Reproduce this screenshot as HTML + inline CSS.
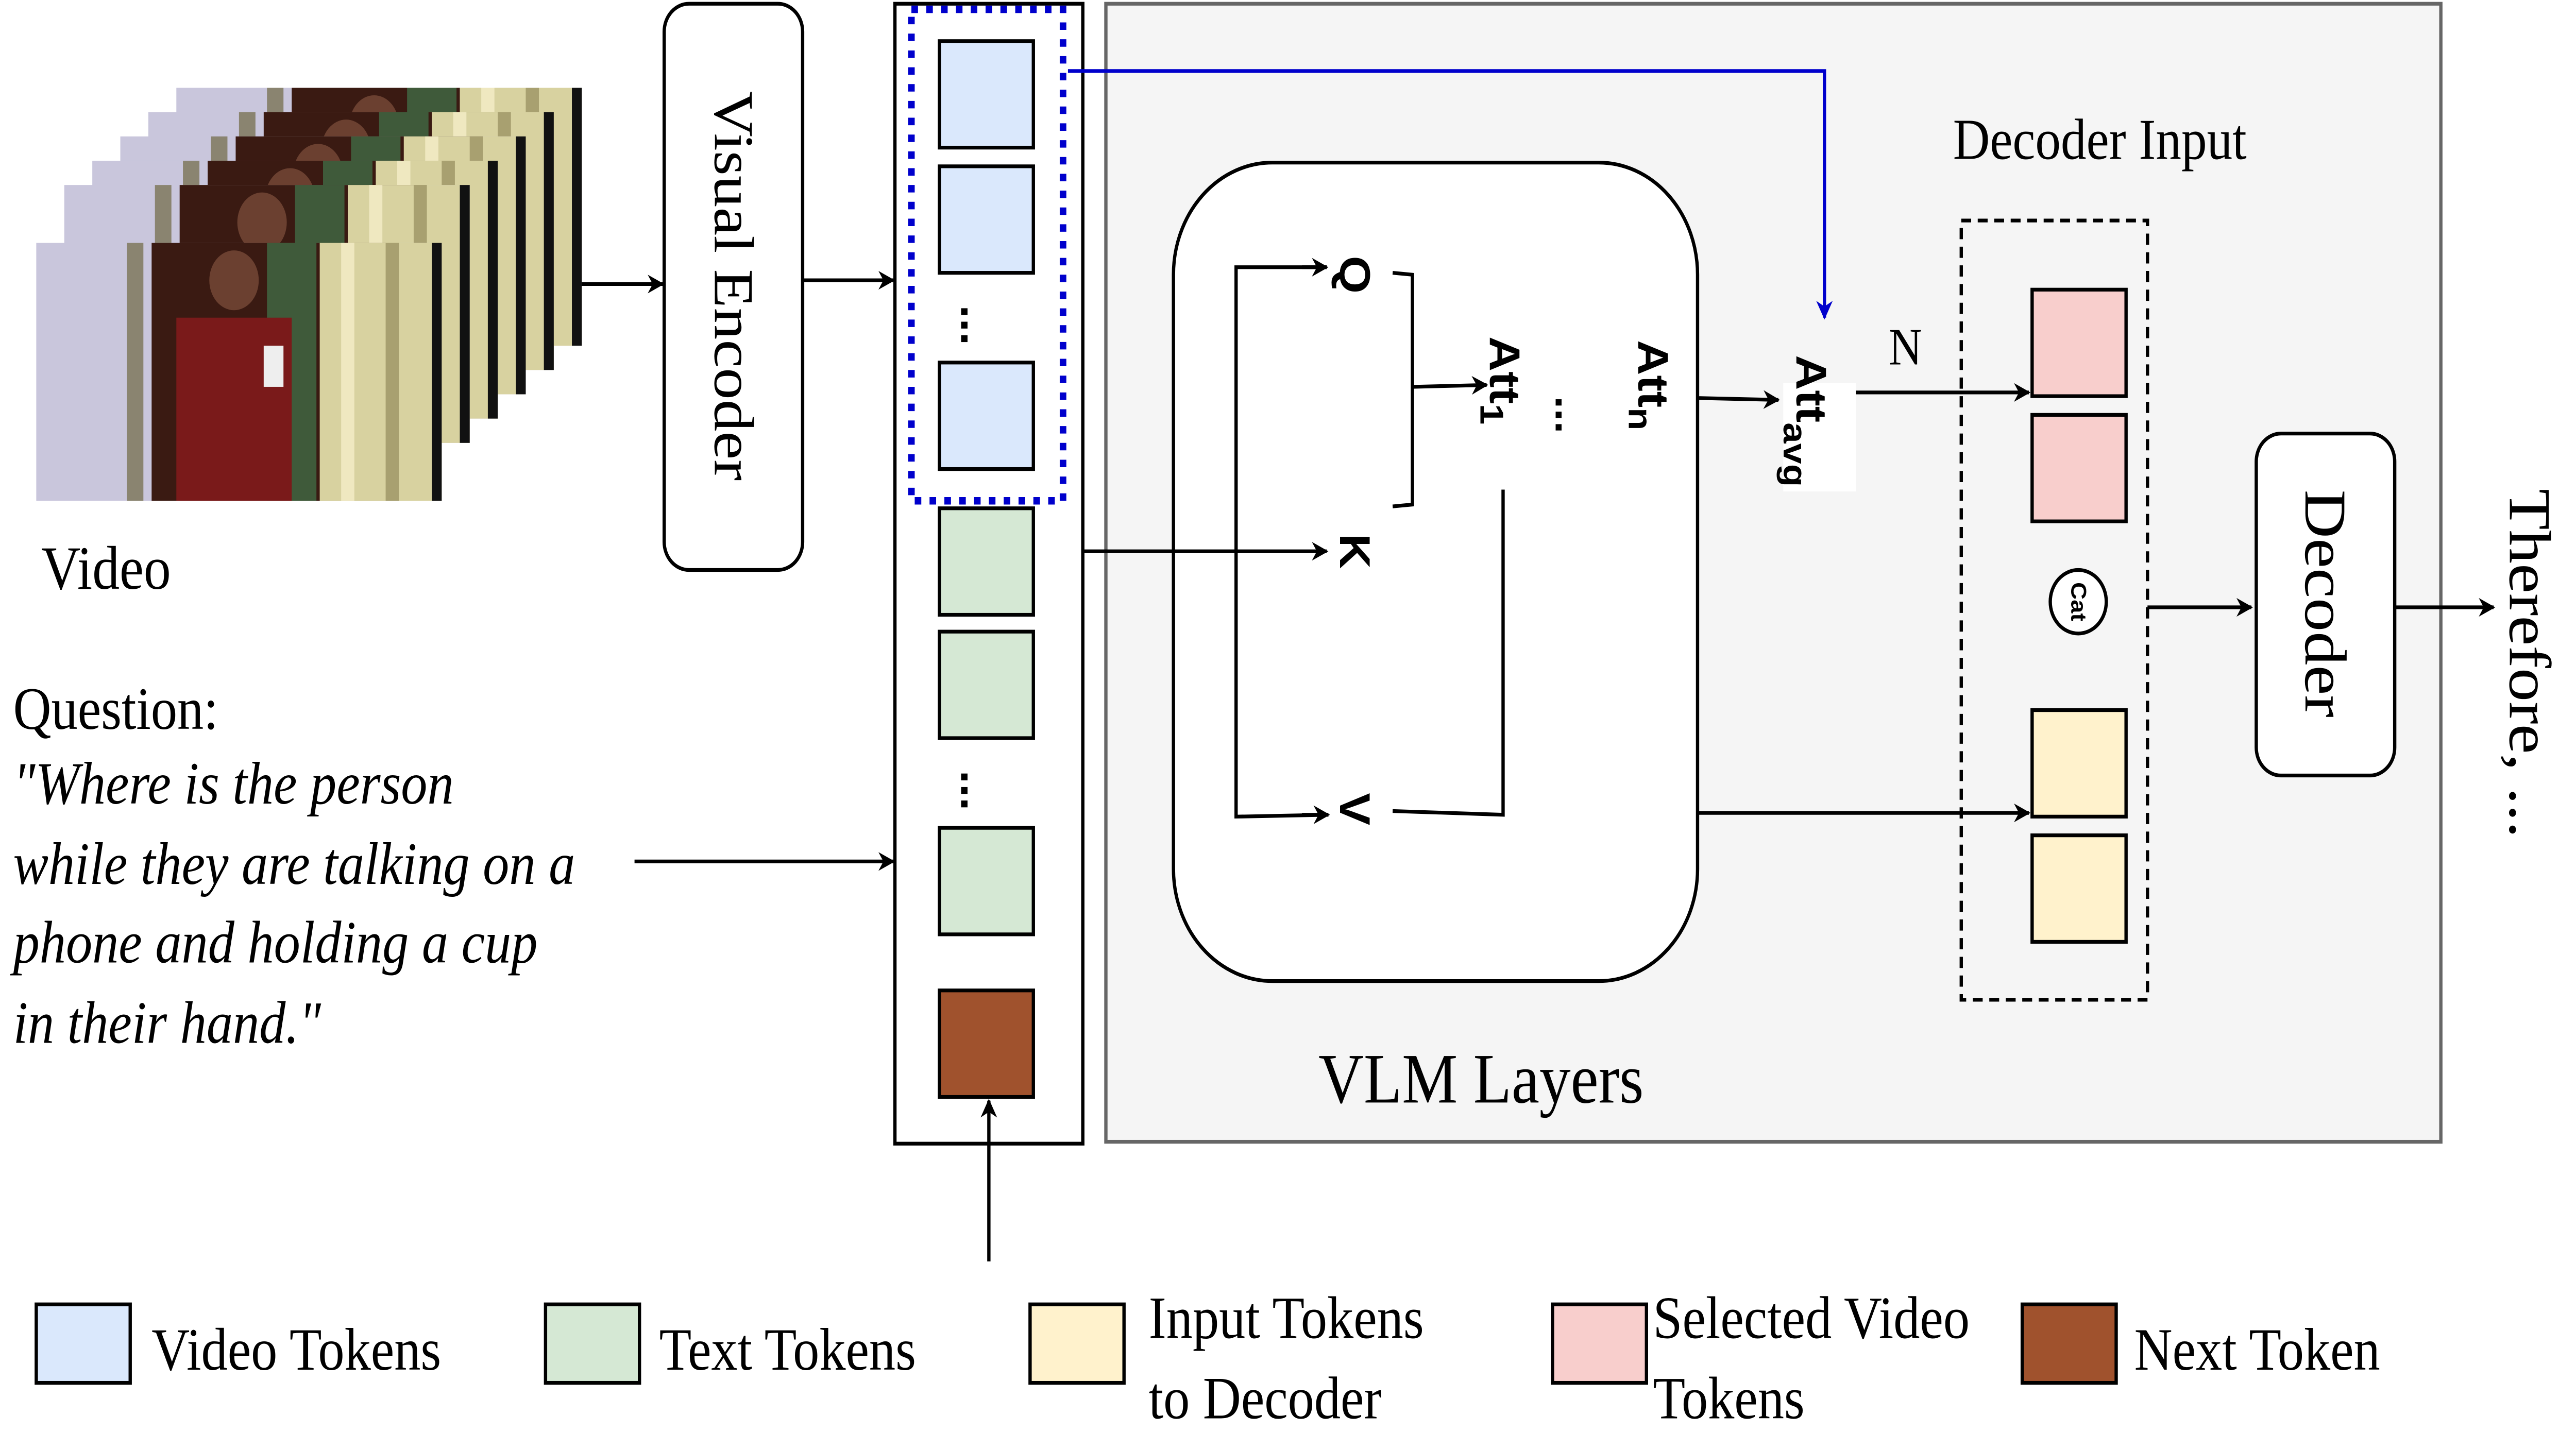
<!DOCTYPE html>
<html><head><meta charset="utf-8"><style>
html,body{margin:0;padding:0;background:#fff;width:100vw;height:100vh;overflow:hidden;}
svg{display:block;position:absolute;left:0;top:0;width:100vw;height:100vh;}
text{font-family:"Liberation Serif",serif;}
.b{font-family:"Liberation Sans",sans-serif;font-weight:bold;}
</style></head><body>
<svg viewBox="0 0 1563 766.3" preserveAspectRatio="none" xmlns="http://www.w3.org/2000/svg">
<defs>
<marker id="ah" markerWidth="10" markerHeight="10" refX="9" refY="5" orient="auto" markerUnits="userSpaceOnUse" viewBox="0 0 10 10">
<path d="M0,0 L10,5 L0,10 L3,5 Z" fill="#000"/></marker>
<marker id="ahb" markerWidth="10" markerHeight="10" refX="9" refY="5" orient="auto" markerUnits="userSpaceOnUse" viewBox="0 0 10 10">
<path d="M0,0 L10,5 L0,10 L3,5 Z" fill="#0000CC"/></marker>
<g id="frame">
<rect x="0" y="0" width="246" height="138" fill="#c9c6dc"/>
<rect x="55" y="0" width="10" height="138" fill="#8a8470"/>
<rect x="70" y="0" width="150" height="138" fill="#3a1a12"/>
<rect x="140" y="0" width="30" height="138" fill="#3f5a3a"/>
<rect x="172" y="0" width="74" height="138" fill="#d8d2a0"/>
<rect x="185" y="0" width="8" height="138" fill="#efe8c0"/>
<rect x="212" y="0" width="8" height="138" fill="#a8a070"/>
<rect x="240" y="0" width="6" height="138" fill="#111"/>
<ellipse cx="120" cy="20" rx="15" ry="16" fill="#6b4030"/>
<rect x="85" y="40" width="70" height="98" fill="#7a1a1a"/>
<rect x="138" y="55" width="12" height="22" fill="#eee"/>
</g>
</defs>
<use href="#frame" x="107" y="47"/>
<use href="#frame" x="90" y="60"/>
<use href="#frame" x="73" y="73"/>
<use href="#frame" x="56" y="86"/>
<use href="#frame" x="39" y="99"/>
<use href="#frame" x="22" y="130"/>
<text x="25" y="315" font-size="33">Video</text>
<line x1="353" y1="152" x2="402" y2="152" stroke="#000" stroke-width="2" marker-end="url(#ah)"/>
<rect x="403" y="2" width="84" height="303" rx="15" fill="#fff" stroke="#000" stroke-width="2"/>
<text transform="translate(445,153) rotate(90)" text-anchor="middle" dominant-baseline="central" font-size="34">Visual Encoder</text>
<line x1="487" y1="150" x2="542" y2="150" stroke="#000" stroke-width="2" marker-end="url(#ah)"/>
<rect x="671" y="2" width="810" height="609" fill="#f5f5f5" stroke="#666" stroke-width="2"/>
<rect x="543" y="2" width="114" height="610" fill="#fff" stroke="#000" stroke-width="2"/>
<rect x="570" y="22" width="57" height="57" fill="#dae8fc" stroke="#000" stroke-width="2"/>
<rect x="570" y="89" width="57" height="57" fill="#dae8fc" stroke="#000" stroke-width="2"/>
<text transform="translate(592,174) rotate(90)" text-anchor="middle" dominant-baseline="central" font-size="26" class="b">...</text>
<rect x="570" y="194" width="57" height="57" fill="#dae8fc" stroke="#000" stroke-width="2"/>
<rect x="553" y="5" width="92" height="263" fill="none" stroke="#0000CC" stroke-width="4" stroke-dasharray="4,5"/>
<rect x="570" y="272" width="57" height="57" fill="#d5e8d4" stroke="#000" stroke-width="2"/>
<rect x="570" y="338" width="57" height="57" fill="#d5e8d4" stroke="#000" stroke-width="2"/>
<text transform="translate(592,423) rotate(90)" text-anchor="middle" dominant-baseline="central" font-size="26" class="b">...</text>
<rect x="570" y="443" width="57" height="57" fill="#d5e8d4" stroke="#000" stroke-width="2"/>
<rect x="570" y="530" width="57" height="57" fill="#a0522d" stroke="#000" stroke-width="2"/>
<line x1="600" y1="675" x2="600" y2="589" stroke="#000" stroke-width="2" marker-end="url(#ah)"/>
<text x="8" y="390" font-size="32">Question:</text>
<g font-size="32" font-style="italic">
<text x="8" y="430">"Where is the person</text>
<text x="8" y="473">while they are talking on a</text>
<text x="8" y="515">phone and holding a cup</text>
<text x="8" y="558">in their hand."</text>
</g>
<line x1="385" y1="461" x2="542" y2="461" stroke="#000" stroke-width="2" marker-end="url(#ah)"/>
<rect x="712" y="87" width="318" height="438" rx="60" fill="#fff" stroke="#000" stroke-width="2"/>
<text x="800" y="590" font-size="38">VLM Layers</text>
<polyline points="657,295 805,295" fill="none" stroke="#000" stroke-width="2" marker-end="url(#ah)"/>
<polyline points="805,143 750,143 750,437 806,436" fill="none" stroke="#000" stroke-width="2"/>
<line x1="790" y1="143" x2="805" y2="143" stroke="#000" stroke-width="2" marker-end="url(#ah)"/>
<line x1="790" y1="436" x2="806" y2="436" stroke="#000" stroke-width="2" marker-end="url(#ah)"/>
<text transform="translate(822,147) rotate(90)" text-anchor="middle" dominant-baseline="central" font-size="26" class="b">Q</text>
<text transform="translate(822,295) rotate(90)" text-anchor="middle" dominant-baseline="central" font-size="26" class="b">K</text>
<text transform="translate(822,433) rotate(90)" text-anchor="middle" dominant-baseline="central" font-size="26" class="b">V</text>
<polyline points="845,146 857,147 857,270 845,271" fill="none" stroke="#000" stroke-width="2"/>
<line x1="857" y1="207" x2="902" y2="206" stroke="#000" stroke-width="2" marker-end="url(#ah)"/>
<polyline points="845,434 912,436 912,262" fill="none" stroke="#000" stroke-width="2"/>
<text transform="translate(913,180) rotate(90)" font-size="26" class="b" dominant-baseline="central">Att<tspan font-size="20" dy="8">1</tspan></text>
<text transform="translate(952,222) rotate(90)" text-anchor="middle" dominant-baseline="central" font-size="24" class="b">...</text>
<text transform="translate(1003,182) rotate(90)" font-size="26" class="b" dominant-baseline="central">Att<tspan font-size="20" dy="8">n</tspan></text>
<line x1="1030" y1="213" x2="1079" y2="214" stroke="#000" stroke-width="2" marker-end="url(#ah)"/>
<line x1="1030" y1="435" x2="1231" y2="435" stroke="#000" stroke-width="2" marker-end="url(#ah)"/>
<rect x="1082" y="205" width="44" height="58" fill="#fff"/>
<text transform="translate(1099,190) rotate(90)" font-size="26" class="b" dominant-baseline="central">Att<tspan font-size="20" dy="10">avg</tspan></text>
<polyline points="648,38 1107,38 1107,170" fill="none" stroke="#0000CC" stroke-width="2" marker-end="url(#ahb)"/>
<text x="1146" y="195" font-size="28">N</text>
<line x1="1126" y1="210" x2="1231" y2="210" stroke="#000" stroke-width="2" marker-end="url(#ah)"/>
<text x="1185" y="85" font-size="31">Decoder Input</text>
<rect x="1190" y="118" width="113" height="417" fill="none" stroke="#000" stroke-width="2" stroke-dasharray="6,4"/>
<rect x="1233" y="155" width="57" height="57" fill="#f8cecc" stroke="#000" stroke-width="2"/>
<rect x="1233" y="222" width="57" height="57" fill="#f8cecc" stroke="#000" stroke-width="2"/>
<circle cx="1261" cy="322" r="17" fill="#fff" stroke="#000" stroke-width="2"/>
<text transform="translate(1261,322) rotate(90)" text-anchor="middle" dominant-baseline="central" font-size="13" class="b">Cat</text>
<rect x="1233" y="380" width="57" height="57" fill="#fff2cc" stroke="#000" stroke-width="2"/>
<rect x="1233" y="447" width="57" height="57" fill="#fff2cc" stroke="#000" stroke-width="2"/>
<line x1="1303" y1="325" x2="1366" y2="325" stroke="#000" stroke-width="2" marker-end="url(#ah)"/>
<rect x="1369" y="232" width="84" height="183" rx="15" fill="#fff" stroke="#000" stroke-width="2"/>
<text transform="translate(1411,323) rotate(90)" text-anchor="middle" dominant-baseline="central" font-size="36">Decoder</text>
<line x1="1453" y1="325" x2="1513" y2="325" stroke="#000" stroke-width="2" marker-end="url(#ah)"/>
<text transform="translate(1535,355) rotate(90)" text-anchor="middle" dominant-baseline="central" font-size="36">Therefore, ...</text>
<rect x="22" y="698" width="57" height="42" fill="#dae8fc" stroke="#000" stroke-width="2"/>
<text x="92" y="733" font-size="32">Video Tokens</text>
<rect x="331" y="698" width="57" height="42" fill="#d5e8d4" stroke="#000" stroke-width="2"/>
<text x="400" y="733" font-size="32">Text Tokens</text>
<rect x="625" y="698" width="57" height="42" fill="#fff2cc" stroke="#000" stroke-width="2"/>
<text x="697" y="716" font-size="32">Input Tokens</text>
<text x="697" y="759" font-size="32">to Decoder</text>
<rect x="942" y="698" width="57" height="42" fill="#f8cecc" stroke="#000" stroke-width="2"/>
<text x="1003" y="716" font-size="32">Selected Video</text>
<text x="1003" y="759" font-size="32">Tokens</text>
<rect x="1227" y="698" width="57" height="42" fill="#a0522d" stroke="#000" stroke-width="2"/>
<text x="1295" y="733" font-size="32">Next Token</text>
</svg>
</body></html>
